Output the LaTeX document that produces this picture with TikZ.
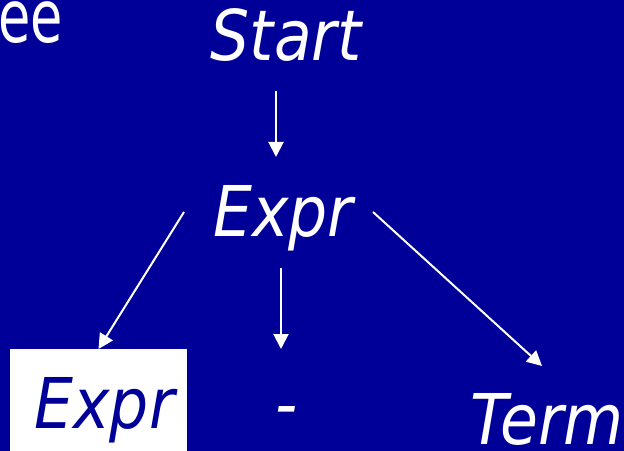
\documentclass[tikz,border=0pt]{standalone}
\usepackage{fontspec}
\usetikzlibrary{arrows.meta,calc}
\newfontfamily\tfont[FakeStretch=0.88]{DejaVu Sans}
\newfontfamily\eefont[FakeStretch=0.72]{DejaVu Sans}
\definecolor{bgblue}{RGB}{0,0,153}
\tikzset{
  lbl/.style={inner sep=0pt, outer sep=0pt, text=white, font=\tfont\itshape\fontsize{70bp}{80bp}\selectfont, anchor=base},
  arr/.style={draw=white, line width=2bp, -{Triangle[length=15bp,width=15bp]}}
}
\begin{document}
\begin{tikzpicture}[x=1bp,y=-1bp]
\fill[bgblue] (0,0) rectangle (624,451);
\useasboundingbox (0,0) rectangle (624,451);
\node[inner sep=0pt, text=white, font=\eefont\fontsize{73bp}{80bp}\selectfont, anchor=base east] (title) at (63,43) {ee};
\node[lbl] (start) at (286,61) {Start};
\node[lbl] (expr) at (283,237) {Expr};
\node[fill=white, inner sep=0pt, outer sep=0pt, minimum width=177bp, minimum height=102bp,
      text height=70bp, text depth=14bp, text=bgblue,
      font=\tfont\itshape\fontsize{70bp}{80bp}\selectfont] (box) at (98.5,400) {\hspace{12bp}Expr};
\node[lbl] (minus) at (287,428) {-};
\node[lbl] (term) at (547,444) {Term};
\draw[arr] ($(start.base)+(-10,30)$) -- ($(expr.base)+(-7,-80)$);
\draw[arr] ($(expr.base)+(-99,-25)$) -- (box.north);
\draw[arr] ($(expr.base)+(-2,31)$) -- ($(minus.base)+(-6,-79)$);
\draw[arr] ($(expr.base)+(90,-25)$) -- ($(term.base)+(-5,-78)$);
\end{tikzpicture}
\end{document}
